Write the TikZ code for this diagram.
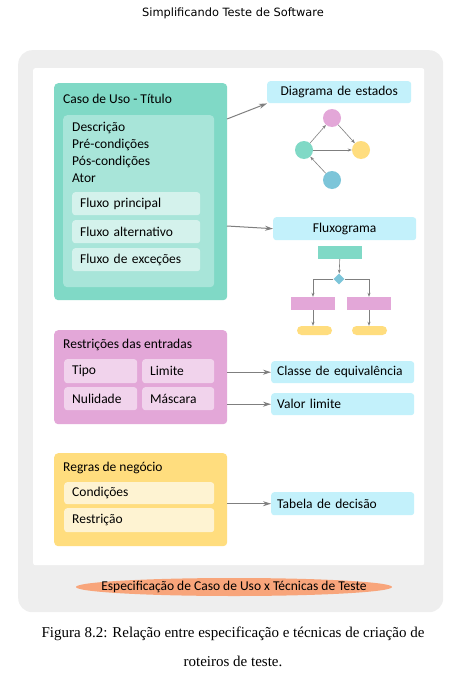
\documentclass[tikz,border=0pt]{standalone}
\usepackage{fontspec}
\setmainfont{Carlito}
\newfontfamily\headfont{DejaVu Sans}
\newfontfamily\capfont{Liberation Serif}
\usetikzlibrary{arrows.meta,shapes.geometric}

\definecolor{bggray}{HTML}{EEEEEE}
\definecolor{teal1}{HTML}{80D9C6}
\definecolor{teal2}{HTML}{A8E5D9}
\definecolor{teal3}{HTML}{D4F2EC}
\definecolor{pink1}{HTML}{E3A7D8}
\definecolor{pink2}{HTML}{F1D3EC}
\definecolor{yell1}{HTML}{FFDD7E}
\definecolor{yell2}{HTML}{FEF3D2}
\definecolor{cyan1}{HTML}{C3F1FB}
\definecolor{blue1}{HTML}{7CC5D9}
\definecolor{salmon}{HTML}{F8A57B}
\definecolor{arrgray}{HTML}{7F7F7F}

\tikzset{
  txt/.style={font=\fontsize{13.5}{17}\selectfont, inner sep=0pt},
  group/.style={rectangle, rounded corners=4pt, anchor=north west, inner sep=0pt},
  inbox/.style={rectangle, rounded corners=3pt, anchor=north west, inner xsep=8pt,
    inner ysep=0pt, align=left, font=\fontsize{13.5}{15}\selectfont},
  techbox/.style={inbox, fill=cyan1, inner xsep=6pt},
  bigarrow/.style={draw=arrgray, line width=1pt, -{Stealth[length=8pt,width=5pt]}},
  smallarrow/.style={draw=arrgray, line width=0.6pt, -{Stealth[length=4pt,width=3pt]}},
  state/.style={circle, minimum size=18pt, inner sep=0pt},
}

\begin{document}
\begin{tikzpicture}[x=1pt,y=-1pt]
\useasboundingbox (0,0) rectangle (467,685);

% Header and frame
\node[font=\headfont\fontsize{11.4}{13}\selectfont] (head) at (233,13) {Simplificando Teste de Software};
\node[group, fill=bggray, rounded corners=14pt, minimum width=425pt, minimum height=562pt] (frame) at (18,50) {};
\node[group, fill=white, rounded corners=2pt, minimum width=391pt, minimum height=497pt] (sheet) at (33,68) {};

% Caso de uso
\node[group, fill=teal1, minimum width=173pt, minimum height=217pt] (uso) at (54,83) {};
\node[txt, anchor=west] (usotitle) at (63,99) {Caso de Uso - Título};
\node[group, fill=teal2, minimum width=151pt, minimum height=172pt] (usoin) at (63,115) {};
\node[txt, anchor=west, align=left] (usofields) at (72,152.5) {Descrição\\Pré-condições\\Pós-condições\\Ator};
\node[inbox, fill=teal3, text width=112pt, minimum height=23pt] (fluxp) at (72,192) {Fluxo principal};
\node[inbox, fill=teal3, text width=112pt, minimum height=23pt] (fluxa) at (72,220) {Fluxo alternativo};
\node[inbox, fill=teal3, text width=112pt, minimum height=23pt] (fluxe) at (72,248) {Fluxo de exceções};

% Restricoes das entradas
\node[group, fill=pink1, minimum width=173pt, minimum height=94pt] (restr) at (54,330) {};
\node[txt, anchor=west] (restrtitle) at (63,345) {Restrições das entradas};
\node[inbox, fill=pink2, text width=57pt, minimum height=24pt] (tipo) at (64,359) {Tipo};
\node[inbox, fill=pink2, text width=56pt, minimum height=24pt] (limite) at (142,359) {Limite};
\node[inbox, fill=pink2, text width=57pt, minimum height=23pt] (nulid) at (64,387) {Nulidade};
\node[inbox, fill=pink2, text width=56pt, minimum height=23pt] (masc) at (142,387) {Máscara};

% Regras de negocio
\node[group, fill=yell1, minimum width=173pt, minimum height=93pt] (regras) at (54,453) {};
\node[txt, anchor=west] (regrastitle) at (63,468) {Regras de negócio};
\node[inbox, fill=yell2, text width=134pt, minimum height=22pt] (cond) at (64,482) {Condições};
\node[inbox, fill=yell2, text width=134pt, minimum height=24pt] (restri) at (64,508) {Restrição};

% Tecnicas
\node[inbox, fill=cyan1, align=center, text width=128pt, minimum height=22pt] (estados) at (267,81) {Diagrama de estados};
\node[inbox, fill=cyan1, align=center, text width=127pt, minimum height=23pt] (fluxog) at (273,217) {Fluxograma};
\node[techbox, text width=131pt, minimum height=22pt] (classe) at (271,361) {Classe de equivalência};
\node[techbox, text width=131pt, minimum height=22pt] (valor) at (271,393) {Valor limite};
\node[techbox, text width=131pt, minimum height=23pt] (tabela) at (271,492) {Tabela de decisão};

\coordinate (u1) at (227,119);
\coordinate (u2) at (227,226);
\draw[bigarrow] (u1) -- (estados.south west);
\draw[bigarrow] (u2) -- (fluxog.west);
\draw[bigarrow] (restr.east |- classe.west) -- (classe.west);
\draw[bigarrow] (restr.east |- valor.west) -- (valor.west);
\draw[bigarrow] (regras.east |- tabela.west) -- (tabela.west);

% Mini diagrama de estados
\node[state, fill=pink1] (sp) at (332,118) {};
\node[state, fill=teal1] (st) at (304,150) {};
\node[state, fill=yell1] (sy) at (361,150) {};
\node[state, fill=blue1] (sb) at (332,180) {};
\draw[smallarrow] (st) -- (sp);
\draw[smallarrow] (sp) -- (sy);
\draw[smallarrow] (st) -- (sy);
\draw[smallarrow] (sb) -- (st);

% Mini fluxograma
\node[rectangle, fill=teal1, minimum width=44pt, minimum height=13pt, inner sep=0pt] (fstart) at (340,252.5) {};
\node[diamond, fill=blue1, minimum size=11pt, inner sep=0pt] (fdia) at (339,279) {};
\node[rectangle, fill=pink1, minimum width=44pt, minimum height=13pt, inner sep=0pt] (fa) at (313,303.5) {};
\node[rectangle, fill=pink1, minimum width=44pt, minimum height=13pt, inner sep=0pt] (fb) at (369,303.5) {};
\node[rectangle, fill=yell1, rounded corners=4.5pt, minimum width=35pt, minimum height=9pt, inner sep=0pt] (fea) at (314.5,330.5) {};
\node[rectangle, fill=yell1, rounded corners=4.5pt, minimum width=35pt, minimum height=9pt, inner sep=0pt] (feb) at (369.5,330.5) {};
\draw[smallarrow] (fstart) -- (fdia);
\draw[smallarrow] (fdia.west) -| (fa.north);
\draw[smallarrow] (fdia.east) -| (fb.north);
\draw[smallarrow] (fa.south) -- (fa.south |- fea.north);
\draw[smallarrow] (fb.south) -- (fb.south |- feb.north);

% Legenda
\node[ellipse, fill=salmon, minimum width=316pt, minimum height=18pt, inner sep=0pt] (legenda) at (234,587) {};
\node[txt] (legtxt) at (legenda) {Especificação de Caso de Uso x Técnicas de Teste};

% Caption
\node[font=\capfont\fontsize{15}{17}\selectfont] (cap1) at (233,634) {Figura 8.2: Relação entre especificação e técnicas de criação de};
\node[font=\capfont\fontsize{15}{17}\selectfont] (cap2) at (233,661) {roteiros de teste.};

\end{tikzpicture}
\end{document}
